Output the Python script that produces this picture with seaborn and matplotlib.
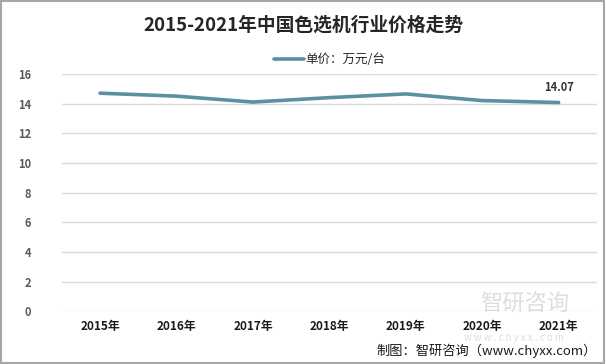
import seaborn as sns
import matplotlib.pyplot as plt
import pandas as pd
from matplotlib.patches import Rectangle

years = ['2015年', '2016年', '2017年', '2018年', '2019年', '2020年', '2021年']
prices = [14.7, 14.5, 14.1, 14.4, 14.65, 14.2, 14.07]
series_name = '单价：万元/台'

df = pd.DataFrame({'year': years, 'price': prices})

sns.set_style('white')
plt.rcParams['font.family'] = ['Noto Sans CJK SC', 'DejaVu Sans']

fig = plt.figure(figsize=(6.06, 3.64), dpi=100)
ax = fig.add_axes([0.102, 0.145, 0.883, 0.652])

sns.lineplot(data=df, x='year', y='price', ax=ax, color='#5b8fa3', linewidth=2.6,
             sort=False, label=series_name)

ax.set_ylim(0, 16)
ax.set_yticks(range(0, 17, 2))
ax.set_xlim(-0.5, len(years) - 0.5)
ax.yaxis.grid(True, color='#d9d9d9', linewidth=1)
ax.set_axisbelow(True)
for s in ax.spines.values():
    s.set_visible(False)
ax.set_xlabel('')
ax.set_ylabel('')
ax.tick_params(axis='y', length=0, pad=22, labelsize=8, labelcolor='#595959')
ax.tick_params(axis='x', length=0, pad=6, labelsize=8.5, labelcolor='#1a1a1a')
for t in ax.get_yticklabels():
    t.set_fontweight('bold')
for t in ax.get_xticklabels():
    t.set_fontweight('bold')

ax.annotate(f'{prices[-1]:.2f}', (len(years) - 1, prices[-1]), xytext=(0, 6),
            textcoords='offset points', ha='center', va='bottom', fontsize=8,
            color='#333333', fontweight='bold')

ax.legend(loc='center', bbox_to_anchor=(0.5, 1.06), frameon=False,
          fontsize=9, handlelength=2.4, handletextpad=0.1)

fig.text(0.5, 0.93, '2015-2021年中国色选机行业价格走势', ha='center', va='center',
         fontsize=13.5, fontweight='bold', color='#262626')

# watermark
fig.text(0.865, 0.163, '智研咨询', ha='center', va='center', fontsize=16,
         color='#c8c8c8', alpha=0.6)
fig.text(0.848, 0.072, 'w w w . c h y x x . c o m', ha='center', va='center', fontsize=7,
         color='#c8c8c8', alpha=0.6)

fig.text(0.985, 0.035, '制图：智研咨询（www.chyxx.com）', ha='right', va='center',
         fontsize=9.5, color='#1a1a1a')

fig.patches.append(Rectangle((0.002, 0.003), 0.995, 0.994, transform=fig.transFigure,
                             fill=False, edgecolor='#a6a6a6', linewidth=1.5))

fig.savefig('out.png', dpi=100)
